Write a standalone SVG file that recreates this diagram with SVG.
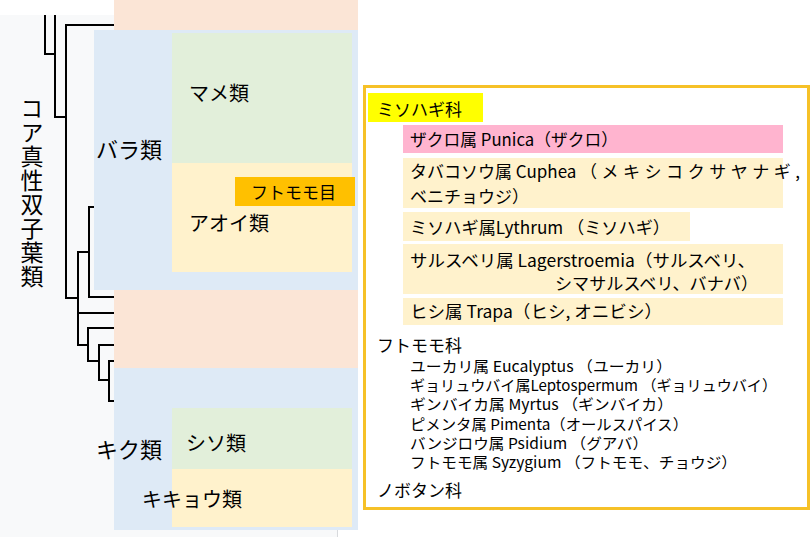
<svg xmlns="http://www.w3.org/2000/svg" width="811" height="537" viewBox="0 0 811 537">
<style>
text{font-family:"Noto Sans CJK JP","Noto Sans",sans-serif;fill:#000}
.peach{fill:#fbe5d6}
.blue{fill:#deeaf6}
.green{fill:#e2efda}
.cream{fill:#fff2cc}
.lab{font-size:20px}
.big{font-size:22px}
.fam{font-size:17px}
.g1{font-size:17px}
.g2{font-size:15px}
.tree{fill:none;stroke:#000;stroke-width:2}
</style>
<rect x="0" y="0" width="811" height="537" fill="#ffffff"/>
<rect x="0" y="15" width="337" height="522" fill="#f8f9fa"/>
<line x1="337.5" y1="529" x2="337.5" y2="537" stroke="#d8dadd" stroke-width="1"/>

<g id="core-eudicots">
<text x="32" y="97" style="writing-mode:vertical-rl;letter-spacing:1px" font-size="23">コア真性双子葉類</text>
</g>

<g id="clade-top">
<rect class="peach" x="114" y="0" width="244" height="30"/>
</g>

<g id="rosids">
<rect class="blue" x="94" y="30" width="264" height="260"/>
<text class="big" x="96" y="158">バラ類</text>
</g>

<g id="fabids">
<rect class="green" x="172" y="33" width="180" height="130"/>
<text class="lab" x="189" y="101">マメ類</text>
</g>

<g id="malvids">
<rect class="cream" x="172" y="163" width="180" height="109"/>
<text class="lab" x="189" y="231">アオイ類</text>
</g>

<g id="myrtales">
<rect x="235" y="177" width="120" height="29" fill="#ffc000"/>
<text class="fam" x="251" y="199">フトモモ目</text>
</g>

<g id="clade-mid">
<rect class="peach" x="114" y="290" width="244" height="78"/>
</g>

<g id="asterids">
<rect class="blue" x="114" y="368" width="244" height="162"/>
<text class="big" x="96" y="458">キク類</text>
</g>

<g id="lamiids">
<rect class="green" x="172" y="408" width="180" height="61"/>
<text class="lab" x="186" y="451">シソ類</text>
</g>

<g id="campanulids">
<rect class="cream" x="172" y="469" width="180" height="58"/>
<text class="lab" x="142" y="507">キキョウ類</text>
</g>

<g id="connectors">
<path class="tree" d="M45,15 V54 H55 M55,15 V117 H66 M114,25 H66 V298 H78 M94,207 H89 V297 H114 M89,252 H78 V345 H88 M78,313 H114 M114,328 H88 V361 H99 M114,345 H99 V380 H109 M114,361 H109 V401 H114"/>
</g>

<g id="myrtales-panel">
<rect x="364.5" y="86.5" width="444" height="422" fill="#ffffff" stroke="#f6c127" stroke-width="3"/>
<g id="lythraceae">
<rect x="368" y="93" width="115" height="29" fill="#ffff00"/>
<text class="fam" x="377" y="116">ミソハギ科</text>
<rect x="403" y="125" width="380" height="28" fill="#ffb4cf"/>
<text class="g1" x="410" y="146" textLength="208" lengthAdjust="spacingAndGlyphs">ザクロ属 Punica（ザクロ）</text>
<rect class="cream" x="403" y="158" width="380" height="50"/>
<text class="g1" x="410" y="178">タバコソウ属 Cuphea<tspan x="580" textLength="220" lengthAdjust="spacing">（メキシコクサヤナギ,</tspan></text>
<text class="g1" x="410" y="203">ベニチョウジ）</text>
<rect class="cream" x="403" y="212" width="287" height="29"/>
<text class="g1" x="410" y="234" textLength="260" lengthAdjust="spacingAndGlyphs">ミソハギ属Lythrum （ミソハギ）</text>
<rect class="cream" x="403" y="244" width="380" height="50"/>
<text class="g1" x="410" y="267" textLength="345" lengthAdjust="spacingAndGlyphs">サルスベリ属 Lagerstroemia（サルスベリ、</text>
<text class="g1" x="555" y="290" textLength="203" lengthAdjust="spacingAndGlyphs">シマサルスベリ、バナバ）</text>
<rect class="cream" x="403" y="298" width="380" height="27"/>
<text class="g1" x="410" y="318" textLength="252" lengthAdjust="spacingAndGlyphs">ヒシ属 Trapa（ヒシ, オニビシ）</text>
</g>
<g id="myrtaceae">
<text class="fam" x="377" y="352">フトモモ科</text>
<text class="g2" x="410" y="372" textLength="262" lengthAdjust="spacingAndGlyphs">ユーカリ属 Eucalyptus （ユーカリ）</text>
<text class="g2" x="410" y="391" textLength="367" lengthAdjust="spacingAndGlyphs">ギョリュウバイ属Leptospermum （ギョリュウバイ）</text>
<text class="g2" x="410" y="410" textLength="263" lengthAdjust="spacingAndGlyphs">ギンバイカ属 Myrtus （ギンバイカ）</text>
<text class="g2" x="410" y="430" textLength="278" lengthAdjust="spacingAndGlyphs">ピメンタ属 Pimenta（オールスパイス）</text>
<text class="g2" x="410" y="449" textLength="238" lengthAdjust="spacingAndGlyphs">バンジロウ属 Psidium （グアバ）</text>
<text class="g2" x="410" y="468" textLength="327" lengthAdjust="spacingAndGlyphs">フトモモ属 Syzygium （フトモモ、チョウジ）</text>
</g>
<g id="melastomataceae">
<text class="fam" x="377" y="497">ノボタン科</text>
</g>
</g>
</svg>
